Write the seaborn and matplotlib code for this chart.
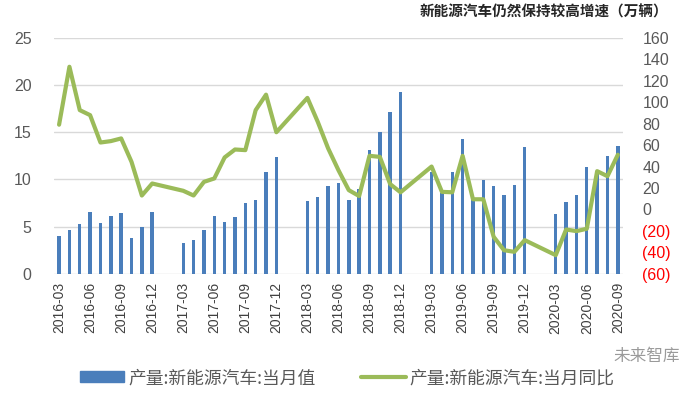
import pandas as pd
import numpy as np
import matplotlib
matplotlib.use("Agg")
import matplotlib.pyplot as plt
from matplotlib.patches import Patch
from matplotlib.lines import Line2D
import seaborn as sns

# months on the category axis (Jan/Feb have no data)
months = [p.strftime("%Y-%m") for p in pd.period_range("2016-03", "2020-09", freq="M")]

# production, 10k vehicles
prod_2016 = [4.0, 4.6, 5.3, 6.5, 5.4, 6.1, 6.4, 3.8, 4.95, 6.5]
prod_2017 = [None, None, 3.25, 3.55, 4.65, 6.15, 5.45, 6.05, 7.55, 7.8, 10.8, 12.4]
prod_2018 = [None, None, 7.75, 8.15, 9.3, 9.65, 7.8, 8.95, 13.1, 15.05, 17.15, 19.3]
prod_2019 = [None, None, 10.8, 8.6, 10.8, 14.25, 8.0, 9.9, 9.3, 8.4, 9.4, 13.4]
prod_2020 = [None, None, 6.3, 7.65, 8.4, 11.35, 10.8, 12.45, 13.55]

# year-on-year growth, %
yoy_2016 = [79, 133, 92.6, 87.9, 62.4, 63.7, 66.2, 44.4, 13, 24.2]
yoy_2017 = [None, None, 17.4, 13, 25.7, 28.9, 48.5, 55.9, 55.3, 92.6, 107, 72]
yoy_2018 = [None, None, 104, 81.7, 57, 36.6, 18, 12.5, 50, 49, 23.6, 16]
yoy_2019 = [None, None, 40, 16.4, 16, 50, 9.5, 9.5, -25.5, -38, -39.5, -28.6]
yoy_2020 = [None, None, -42.6, -18.7, -20.2, -18, 35.7, 31, 51]

prod = prod_2016 + prod_2017 + prod_2018 + prod_2019 + prod_2020
yoy = yoy_2016 + yoy_2017 + yoy_2018 + yoy_2019 + yoy_2020

df = pd.DataFrame({"month": months,
                   "prod": pd.to_numeric(pd.Series(prod), errors="coerce"),
                   "yoy": pd.to_numeric(pd.Series(yoy), errors="coerce")})
df["pos"] = np.arange(len(df))

sns.set_style("white")
plt.rcParams['font.family'] = ['Liberation Sans', 'Noto Sans CJK SC', 'DejaVu Sans']

bar_color = "#4A7EBB"
line_color = "#9BBB59"
grey = "#595959"

fig = plt.figure(figsize=(7, 3.98), dpi=100)
ax = fig.add_axes([0.077, 0.312, 0.813, 0.593])

sns.barplot(data=df, x="month", y="prod", order=months, color=bar_color,
            saturation=1, width=0.33, errorbar=None, ax=ax, linewidth=0)
ax.set_ylim(0, 25)
ax.set_yticks(range(0, 26, 5))
ax.yaxis.grid(True, color="#D9D9D9", lw=1)
ax.set_axisbelow(True)

ax2 = ax.twinx()
line_df = df.dropna(subset=["yoy"])
sns.lineplot(data=line_df, x="pos", y="yoy", color=line_color, lw=3,
             ax=ax2, sort=False)
ax2.set_ylim(-60, 160)
rt = list(range(-60, 161, 20))
ax2.set_yticks(rt)
ax2.set_yticklabels([f"({-v})" if v < 0 else str(v) for v in rt])
for lab, v in zip(ax2.get_yticklabels(), rt):
    lab.set_color("red" if v < 0 else grey)

ax.set_xlim(-0.5, len(months) - 0.5)
ax2.set_xlim(-0.5, len(months) - 0.5)
tick_pos = list(range(0, len(months), 3))
ax.set_xticks(tick_pos)
ax.set_xticklabels([months[i] for i in tick_pos], rotation=90)

for a in (ax, ax2):
    for s in a.spines.values():
        s.set_visible(False)
    a.set_xlabel("")
    a.set_ylabel("")
ax.tick_params(axis="y", length=0, pad=16, labelsize=11.5, labelcolor=grey)
ax.tick_params(axis="x", length=0, pad=6, labelsize=10, labelcolor="#404040")
ax2.tick_params(axis="y", length=0, pad=14, labelsize=11.5)

fig.text(0.954, 0.972, "新能源汽车仍然保持较高增速（万辆）", ha="right", va="center",
         fontsize=10.5, fontweight="bold", family=["Noto Sans CJK SC", "DejaVu Sans"])

handles = [Patch(facecolor=bar_color, edgecolor=bar_color),
           Line2D([0], [0], color=line_color, lw=3)]
labels = ["产量:新能源汽车:当月值", "产量:新能源汽车:当月同比"]
fig.legend(handles, labels, loc="center", bbox_to_anchor=(0.496, 0.05), ncol=2,
           frameon=False, handlelength=2.5, handleheight=0.6, columnspacing=2.6,
           handletextpad=0.2, prop={"family": ["Noto Sans CJK SC"], "size": 12.8},
           labelcolor=grey)

fig.text(0.972, 0.105, "未来智库", ha="right", va="center", fontsize=12,
         color="#9A9A9A", family=["Noto Sans CJK SC"])

fig.savefig("out.png", dpi=100)
